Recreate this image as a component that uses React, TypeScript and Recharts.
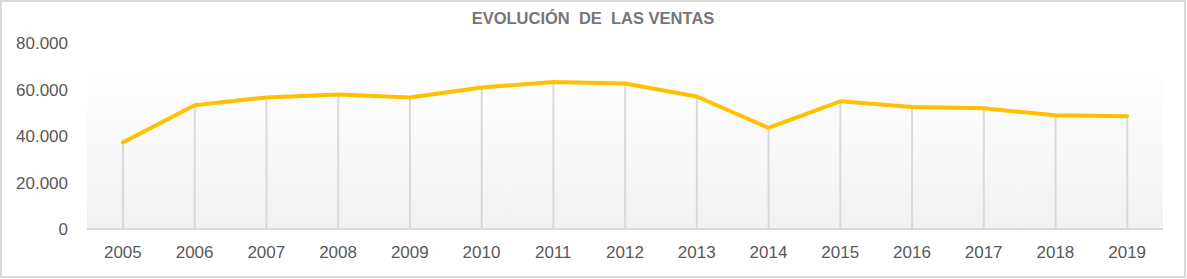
import React from 'react';
import {
  ComposedChart,
  Line,
  Bar,
  XAxis,
  YAxis,
  ReferenceArea,
} from 'recharts';

// ─── Data ─────────────────────────────────────────────────────────────────────

const years = [
  '2005', '2006', '2007', '2008', '2009', '2010', '2011', '2012',
  '2013', '2014', '2015', '2016', '2017', '2018', '2019',
];

const ventas = [
  37200, 53200, 56600, 57800, 56600, 60900, 63200, 62600,
  57000, 43500, 54900, 52500, 51900, 48900, 48500,
];

const yTicks = [0, 20000, 40000, 60000, 80000];

const data = years.map((year, i) => ({ year, ventas: ventas[i] }));

const fmt = (v: number) => String(v).replace(/\B(?=(\d{3})+(?!\d))/g, '.');

const tickStyle = { fontSize: 17, fill: '#595959', fontFamily: '"Liberation Sans", Arial, sans-serif' };

// ─── Chart ────────────────────────────────────────────────────────────────────

export default function App() {
  return (
    <div
      style={{
        position: 'relative',
        width: 1186,
        height: 278,
        boxSizing: 'border-box',
        border: '2px solid #d9d9d9',
        background: '#fff',
      }}
    >
      <style>{'body{margin:0}'}</style>
      <div
        style={{
          position: 'absolute',
          top: 6,
          left: 0,
          width: '100%',
          textAlign: 'center',
          whiteSpace: 'pre',
          fontFamily: '"Liberation Sans", Arial, sans-serif',
          fontWeight: 'bold',
          fontSize: 16.5,
          lineHeight: '20px',
          color: '#767676',
        }}
      >
        {'EVOLUCIÓN  DE  LAS VENTAS'}
      </div>
      <ComposedChart
        width={1182}
        height={274}
        data={data}
        margin={{ top: 41, right: 21, left: 0, bottom: 0 }}
      >
        <defs>
          <linearGradient id="plotBg" x1="0" y1="0" x2="0" y2="1">
            <stop offset="0%" stopColor="#ffffff" />
            <stop offset="100%" stopColor="#f2f2f2" />
          </linearGradient>
        </defs>
        <XAxis
          dataKey="year"
          height={47}
          tick={tickStyle}
          tickLine={false}
          tickMargin={11}
          axisLine={{ stroke: '#d9d9d9', strokeWidth: 2 }}
        />
        <YAxis
          width={85}
          domain={[0, 80000]}
          ticks={yTicks}
          tickFormatter={fmt}
          tick={tickStyle}
          tickLine={false}
          axisLine={false}
          tickMargin={13}
        />
        <ReferenceArea y1={0} y2={70700} fill="url(#plotBg)" fillOpacity={1} stroke="none" />
        <Bar dataKey="ventas" barSize={2} fill="#d9d9d9" isAnimationActive={false} />
        <Line
          type="linear"
          dataKey="ventas"
          stroke="#ffc000"
          strokeWidth={4}
          strokeLinecap="round"
          strokeLinejoin="round"
          dot={false}
          activeDot={false}
          isAnimationActive={false}
        />
      </ComposedChart>
    </div>
  );
}
